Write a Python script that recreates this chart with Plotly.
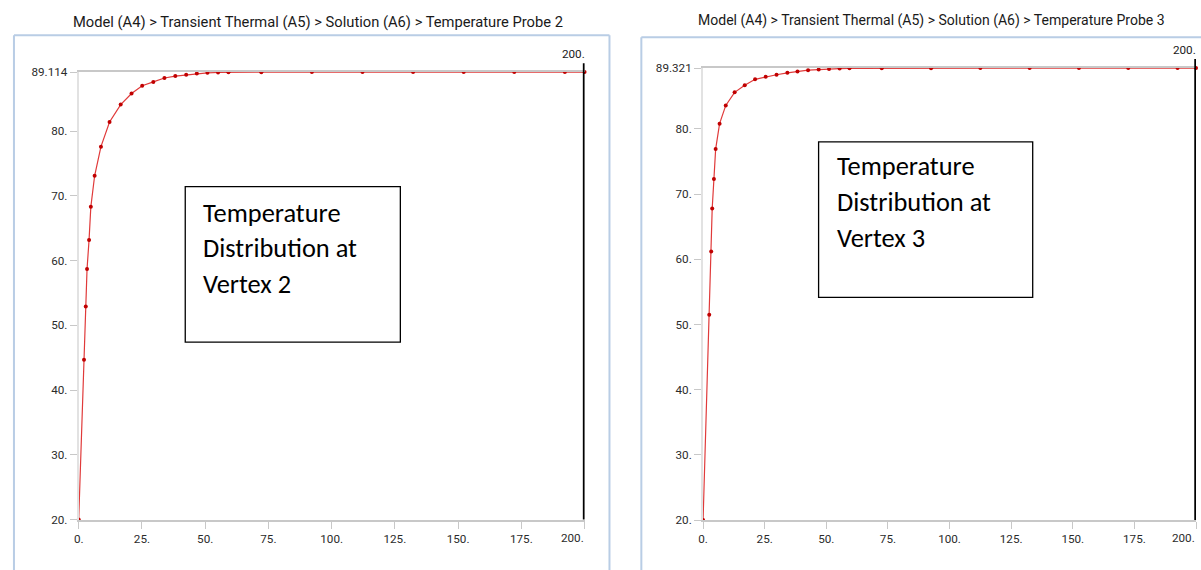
import plotly.graph_objects as go

# ---- data ----
time_v2 = [0, 2.1, 2.8, 3.3, 4.1, 4.8, 6.3, 8.8, 12.2, 16.6, 20.9, 25.1, 29.5, 33.9, 38.2,
           42.5, 46.7, 50.9, 55.1, 59.2, 72.2, 92.2, 112.2, 132.2, 152.2, 172.2, 192.2, 200]
temp_v2 = [20.0, 44.7, 52.9, 58.7, 63.2, 68.3, 73.1, 77.6, 81.4, 84.1, 85.8, 87.0, 87.6, 88.2, 88.5,
           88.7, 88.9, 89.0, 89.05, 89.08, 89.1, 89.11, 89.112, 89.113, 89.114, 89.114, 89.114, 89.114]

time_v3 = [0, 2.5, 3.3, 3.7, 4.4, 5.1, 6.7, 9.2, 12.8, 16.9, 21.1, 25.4, 29.8, 34.2, 38.3,
           42.6, 46.9, 51.1, 55.4, 59.4, 72.5, 92.5, 112.5, 132.5, 152.5, 172.5, 192.5, 200]
temp_v3 = [20.0, 51.5, 61.2, 67.8, 72.3, 76.9, 80.8, 83.6, 85.6, 86.7, 87.6, 88.0, 88.3, 88.6, 88.8,
           89.0, 89.1, 89.2, 89.25, 89.28, 89.3, 89.31, 89.318, 89.32, 89.321, 89.321, 89.321, 89.321]

x_ticks = [0, 25, 50, 75, 100, 125, 150, 175, 200]
y_ticks = [20, 30, 40, 50, 60, 70, 80]

titles = ["Model (A4) > Transient Thermal (A5) > Solution (A6) > Temperature Probe 2",
          "Model (A4) > Transient Thermal (A5) > Solution (A6) > Temperature Probe 3"]
box_lines = [["Temperature", "Distribution at", "Vertex 2"],
             ["Temperature", "Distribution at", "Vertex 3"]]

# ---- layout helpers (target pixel -> paper fraction) ----
AX, KX, AY, KY = 0.0, 1.0, 4.7, 0.979
W = 1201
H = 578

def px(x):
    return ((x - AX) / KX) / W

def py(y):
    return 1 - ((y - AY) / KY) / H

FS = 1.016
NARROW = "Roboto, Liberation Sans Narrow, sans-serif"
TICKCOL = "#2b2b2b"
AXCOL = "#c8c8c8"
FRAME = "#b9cde5"

def xlabel(v):
    # the last label is drawn separately, to the left of its tick
    return "" if v == x_ticks[-1] else f"{v}."

fig = go.Figure()

panels = [
    dict(t=time_v2, v=temp_v2, xd=[px(74), px(582)], yd=[py(519), py(70)], xa="x", ya="y"),
    dict(t=time_v3, v=temp_v3, xd=[px(701), px(1196)], yd=[py(519.5), py(66)], xa="x2", ya="y2"),
]

for i, p in enumerate(panels):
    fig.add_trace(go.Scatter(
        x=p["t"], y=p["v"], mode="lines+markers", xaxis=p["xa"], yaxis=p["ya"],
        line=dict(color="#e03a3a", width=1.2),
        marker=dict(color="#c00000", size=4),
        cliponaxis=False, showlegend=False, hoverinfo="x+y"))
    vmax = max(p["v"])
    sfx = "" if i == 0 else "2"
    yv = y_ticks + [vmax]
    yt = [f"{v}." for v in y_ticks] + [f"{vmax:.3f}"]
    fig.layout["xaxis" + sfx] = dict(
        domain=p["xd"], range=[0, 200], anchor="y" + sfx,
        tickvals=x_ticks, ticktext=[xlabel(v) for v in x_ticks],
        ticks="outside", ticklen=7, tickcolor=AXCOL, tickwidth=1,
        showline=True, linecolor=AXCOL, linewidth=2, mirror=True,
        showgrid=False, zeroline=False,
        tickfont=dict(family=NARROW, size=11.5 * FS, color=TICKCOL))
    fig.layout["yaxis" + sfx] = dict(
        domain=p["yd"], range=[20, vmax], anchor="x" + sfx,
        tickvals=yv, ticktext=yt,
        ticks="outside", ticklen=7, tickcolor=AXCOL, tickwidth=1,
        showline=True, linecolor="#e2e2e2", linewidth=2,
        showgrid=False, zeroline=False,
        tickfont=dict(family=NARROW, size=11.5 * FS, color=TICKCOL))
    # last x tick label, right-aligned to its tick
    fig.add_annotation(xref=p["xa"], yref=p["ya"] + " domain", x=x_ticks[-1], y=0,
                       text=f"{x_ticks[-1]}.", showarrow=False, xanchor="right", yanchor="top",
                       yshift=-9, xshift=1, font=dict(family=NARROW, size=11.5 * FS, color=TICKCOL))
    # time cursor at end time
    tend = p["t"][-1]
    fig.add_shape(type="line", xref=p["xa"], yref=p["ya"] + " domain",
                  x0=tend, x1=tend, y0=0, y1=1.02,
                  line=dict(color="black", width=3.5), layer="above")
    fig.add_annotation(xref=p["xa"], yref=p["ya"] + " domain", x=tend, y=1.02,
                       text=f"{tend:g}.", showarrow=False, xanchor="right", yanchor="bottom",
                       xshift=2, font=dict(family=NARROW, size=11.5 * FS, color="#1a1a1a"))

# panel frames (they run off the bottom/right edges)
frame_segments = [
    (9, 33, 9, 575), (9, 33, 607, 33), (607, 33, 607, 575),
    (639, 35, 639, 575), (639, 35, 1210, 35),
]
for x0, y0, x1, y1 in frame_segments:
    fig.add_shape(type="line", xref="paper", yref="paper",
                  x0=px(x0), x1=px(x1), y0=py(y0), y1=py(y1),
                  line=dict(color=FRAME, width=2), layer="below")

# titles
for cx, cy, t, fs in [(314, 20, titles[0], 14.5), (930, 18, titles[1], 13.8)]:
    fig.add_annotation(xref="paper", yref="paper", x=px(cx), y=py(cy), text=t, showarrow=False,
                       xanchor="center", yanchor="middle",
                       font=dict(family=NARROW, size=fs * FS, color="#1a1a1a"))

# text boxes
boxes = [dict(x0=181, y0=185, x1=397, y1=341, tx=197, ty=[211, 246, 283]),
         dict(x0=817, y0=140, x1=1032, y1=296, tx=833, ty=[164, 200, 236])]
for b, lines in zip(boxes, box_lines):
    fig.add_shape(type="rect", xref="paper", yref="paper",
                  x0=px(b["x0"]), x1=px(b["x1"]), y0=py(b["y1"]), y1=py(b["y0"]),
                  line=dict(color="black", width=1.3), fillcolor="white", layer="above")
    for ln, ty in zip(lines, b["ty"]):
        fig.add_annotation(xref="paper", yref="paper", x=px(b["tx"]), y=py(ty), text=ln,
                           showarrow=False, xanchor="left", yanchor="middle",
                           font=dict(family="Carlito, Lato, sans-serif", size=26 * FS, color="black"))

fig.update_layout(width=W, height=H, margin=dict(l=0, r=0, t=0, b=0),
                  paper_bgcolor="white", plot_bgcolor="white")

fig.write_html(
    "out.html",
    config={"displayModeBar": False},
    post_script=("document.documentElement.style.overflow='hidden';"
                 "document.body.style.margin='0';document.body.style.overflow='hidden';"))
